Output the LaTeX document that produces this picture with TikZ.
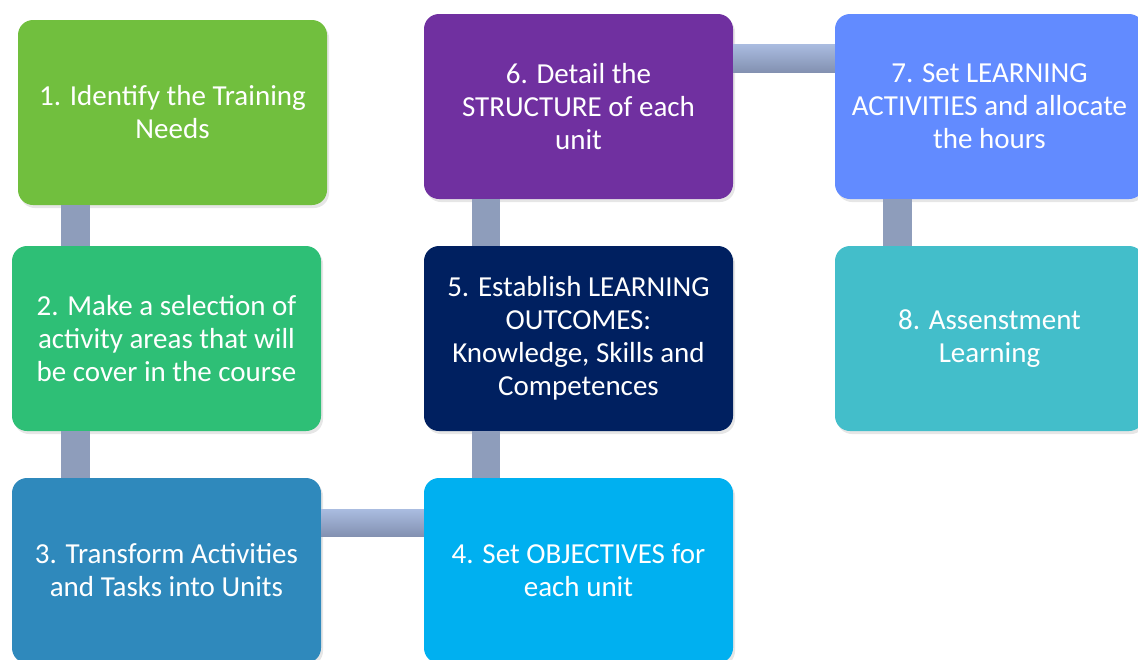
\documentclass[tikz,border=0pt]{standalone}
\usepackage{fontspec}
\setmainfont{Carlito}
\usetikzlibrary{shadows}
\definecolor{cOne}{HTML}{71BF3E}
\definecolor{cTwo}{HTML}{2EBF76}
\definecolor{cThree}{HTML}{2F89BC}
\definecolor{cFour}{HTML}{00B0F0}
\definecolor{cFive}{HTML}{002060}
\definecolor{cSix}{HTML}{7030A0}
\definecolor{cSeven}{HTML}{628BFF}
\definecolor{cEight}{HTML}{43BECA}
\definecolor{barTop}{HTML}{A9BBDF}
\definecolor{barBot}{HTML}{8290B0}
\definecolor{barMid}{HTML}{8E9DBB}
\tikzset{
  stagebox/.style={rounded corners=15pt, minimum width=309pt, minimum height=185pt,
    inner sep=0pt, align=center, text=white,
    font=\fontsize{29}{33}\selectfont,
    drop shadow={shadow xshift=2pt, shadow yshift=-3pt, opacity=0.2}},
  vbar/.style={fill=barMid, draw=none},
  hbar/.style={top color=barTop, bottom color=barBot, draw=none}
}
\begin{document}
\begin{tikzpicture}[x=1pt,y=-1pt]
\useasboundingbox (0,0) rectangle (1138,659);
% stages
\node[stagebox, fill=cOne] (s1) at (172.5,112.5) {1. Identify the Training\\Needs};
\node[stagebox, fill=cTwo] (s2) at (166.5,338.5) {2. Make a selection of\\activity areas that will\\be cover in the course};
\node[stagebox, fill=cThree] (s3) at (166.5,570.5) {3. Transform Activities\\and Tasks into Units};
\node[stagebox, fill=cFour] (s4) at (578.5,570.5) {4. Set OBJECTIVES for\\each unit};
\node[stagebox, fill=cFive] (s5) at (578.5,338.5) {5. Establish LEARNING\\OUTCOMES:\\Knowledge, Skills and\\Competences};
\node[stagebox, fill=cSix] (s6) at (578.5,106.5) {6. Detail the\\STRUCTURE of each\\unit};
\node[stagebox, fill=cSeven] (s7) at (989.5,106.5) {7. Set LEARNING\\ACTIVITIES and allocate\\the hours};
\node[stagebox, fill=cEight] (s8) at (989.5,338.5) {8. Assenstment\\Learning};
% links
\path[vbar] ([xshift=43pt]s1.south west) rectangle ([xshift=72pt]s1.south west |- s2.north);
\path[vbar] ([xshift=49pt]s2.south west) rectangle ([xshift=78pt]s2.south west |- s3.north);
\path[hbar] ([yshift=-32pt]s3.north east) rectangle ([yshift=-59pt]s4.north west);
\path[vbar] ([xshift=48pt]s5.south west) rectangle ([xshift=76pt]s5.south west |- s4.north);
\path[vbar] ([xshift=48pt]s6.south west) rectangle ([xshift=76pt]s6.south west |- s5.north);
\path[hbar] ([yshift=-31pt]s6.north east) rectangle ([yshift=-59pt]s7.north west);
\path[vbar] ([xshift=48pt]s7.south west) rectangle ([xshift=77pt]s7.south west |- s8.north);
\end{tikzpicture}
\end{document}
